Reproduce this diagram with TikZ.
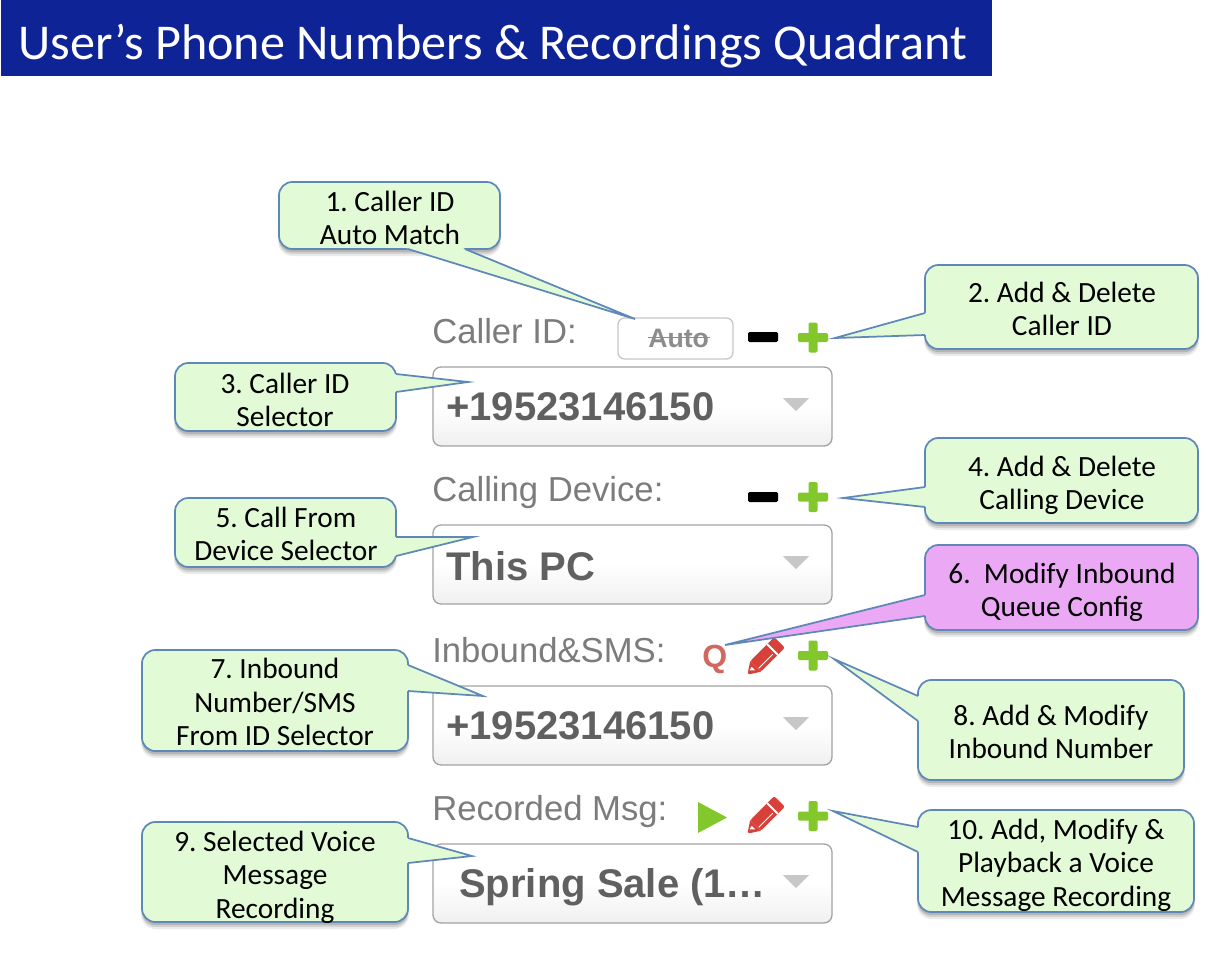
\documentclass[tikz,border=0pt]{standalone}
\usepackage{fontspec}
\setmainfont{Carlito}
\newfontfamily\uifont{Liberation Sans}
\usetikzlibrary{calc}
\definecolor{titleblue}{HTML}{0E2396}
\definecolor{calloutline}{HTML}{5E88B8}
\definecolor{calloutfill}{HTML}{E2FBD6}
\definecolor{pinkfill}{HTML}{EBA9F5}
\definecolor{uigray}{HTML}{606060}
\definecolor{uilabel}{HTML}{7C7C7C}
\definecolor{okgreen}{HTML}{82C82D}
\definecolor{penred}{HTML}{D8403A}
\definecolor{qred}{HTML}{D2675F}
\tikzset{
  x=0.75pt,y=-0.75pt,
  calloutbox/.style={draw=calloutline,line width=1.3pt,rounded corners=10pt},
  callouttext/.style={font=\fontsize{22}{25}\selectfont,align=center,text=black,inner sep=0pt},
  uilabeltext/.style={font=\uifont\fontsize{26}{26}\selectfont,text=uilabel,anchor=base west,inner sep=0pt},
  uivalue/.style={font=\uifont\bfseries\fontsize{30}{30}\selectfont,text=uigray,anchor=base west,inner sep=0pt},
  selectbox/.style={draw=black!36,line width=1pt,rounded corners=6pt,top color=white,bottom color=black!6,middle color=white},
}
\newcommand{\softshadow}[4]{%
  \fill[black,opacity=.08,rounded corners=11pt] (#1-1,#2+1) rectangle (#3+1,#4+7);
  \fill[black,opacity=.10,rounded corners=10pt] (#1,#2+1) rectangle (#3,#4+5);
  \fill[black,opacity=.14,rounded corners=10pt] (#1,#2+1) rectangle (#3,#4+3);
}
% #1 name, #2 x1, #3 y1, #4 x2, #5 y2, #6 tail base a, #7 tail base b, #8 tip, #9 fill
\newcommand{\calloutshape}[9]{
  \softshadow{#2}{#3}{#4}{#5}
  \path[fill=#9,calloutbox] (#2,#3) rectangle (#4,#5);
  \coordinate (#1a) at #6; \coordinate (#1b) at #7; \coordinate (#1tip) at #8;
  \coordinate (#1c) at ($(#2,#3)!.5!(#4,#5)$);
  \fill[#9] (#1a) -- (#1tip) -- (#1b) -- (#1c) -- cycle;
  \draw[calloutline,line width=1.3pt,line join=miter] (#1a) -- (#1tip) -- (#1b);
}
\newcommand{\selectmenu}[3]{% name, top y, bottom y
  \path[selectbox] (433,#2) rectangle (832,#3);
  \coordinate (#1arrow) at (796,#2+37);
  \fill[black!22] (#1arrow)+(-13,-6) -- +(13,-6) -- +(0,7) -- cycle;
}
\newcommand{\plusicon}[2]{%
  \fill[okgreen,rounded corners=1pt] (#1-15,#2-4.5) rectangle (#1+15,#2+4.5);
  \fill[okgreen,rounded corners=1pt] (#1-4.5,#2-15) rectangle (#1+4.5,#2+15);
}
\newcommand{\minusicon}[2]{%
  \fill[black,rounded corners=1pt] (#1-15,#2-5) rectangle (#1+15,#2+5);
}
\newcommand{\pencilicon}[2]{%
  \begin{scope}[shift={(#1,#2)},x={(0.53pt,0.53pt)},y={(0.53pt,-0.53pt)}]
    \fill[penred,rounded corners=1.5pt] (-12,-7.5) -- (22,-7.5) -- (22,7.5) -- (-12,7.5) -- cycle;
    \fill[penred] (-12,-7.5) -- (-12,7.5) -- (-22,1) -- (-22,-1) -- cycle;
    \fill[white] (11,-7.5) -- (13,-7.5) -- (13,7.5) -- (11,7.5) -- cycle;
    \fill[white] (-11,3) -- (9,3) -- (9,4) -- (-11,4) -- cycle;
    \fill[white] (-19,-1.5) -- (-15,-2.5) -- (-15,2.5) -- cycle;
  \end{scope}
}
\begin{document}
\frenchspacing
\begin{tikzpicture}
\useasboundingbox (0,0) rectangle (1208,972);
\fill[white] (0,0) rectangle (1208,972);
% title
\fill[titleblue] (1,0) rectangle (992,76);
\node[font=\fontsize{37.6}{40}\selectfont,text=white,anchor=base west,inner sep=0pt] (title) at (18,59) {User’s Phone Numbers \& Recordings Quadrant};

% UI labels
\node[uilabeltext] (lbla) at (432,343) {Caller ID:};
\node[uilabeltext] (lblb) at (432,501.5) {Calling Device:};
\node[uilabeltext] (lblc) at (432,662) {Inbound\&SMS:};
\node[uilabeltext] (lbld) at (432,820) {Recorded Msg:};

% Auto button
\path[draw=black!22,line width=1pt,rounded corners=5pt,fill=white] (618,318) rectangle (733,359);
\node[font=\uifont\bfseries\fontsize{20}{20}\selectfont,text=black!45,anchor=base west,inner sep=0pt] (auto) at (648,347) {\rlap{\rule[.32em]{46pt}{.8pt}}Auto};

% Select boxes
\selectmenu{sa}{367}{446}
\selectmenu{sb}{525}{604}
\selectmenu{sc}{686}{765}
\selectmenu{sd}{844}{923}
\node[uivalue] (vala) at (446,420) {+19523146150};
\node[uivalue] (valb) at (446,580) {This PC};
\node[uivalue] (valc) at (446,739) {+19523146150};
\node[uivalue] (vald) at (459,897) {Spring Sale (1\ldots};

% Icons
\minusicon{763}{337}
\plusicon{813}{337.5}
\minusicon{763}{497}
\plusicon{813}{497}
\node[font=\uifont\bfseries\fontsize{24}{24}\selectfont,text=qred,anchor=base west,inner sep=0pt] (qicon) at (702,667) {Q};
\pencilicon{764}{658}
\plusicon{813}{655.5}
\fill[okgreen] (698,802) -- (727,817.5) -- (698,833) -- cycle;
\pencilicon{764}{817}
\plusicon{813}{816}

% Callouts
\calloutshape{ca}{279}{182}{500}{249}{(408,249)}{(465,249)}{(635,319)}{calloutfill}
\node[callouttext] (ta) at (390,218) {1. Caller ID\\Auto Match};
\calloutshape{cb}{925}{265}{1198}{349}{(925,313)}{(925,335)}{(835,338)}{calloutfill}
\node[callouttext] (tb) at (1062,309) {2. Add \& Delete\\Caller ID};
\calloutshape{cc}{175}{363}{396}{431}{(396,374)}{(396,392)}{(468,382)}{calloutfill}
\node[callouttext] (tc) at (285,400) {3. Caller ID\\Selector};
\calloutshape{cd}{925}{438}{1198}{523}{(925,487)}{(925,507)}{(843,498)}{calloutfill}
\node[callouttext] (td) at (1062,485) {4. Add \& Delete\\Calling Device};
\calloutshape{ce}{175}{498}{396}{567}{(396,537)}{(396,556)}{(473,537)}{calloutfill}
\node[callouttext] (te) at (286,534) {5. Call From\\Device Selector};
\calloutshape{cf}{925}{545}{1198}{630}{(925,595)}{(925,616)}{(725,645)}{pinkfill}
\node[callouttext] (tf) at (1062,592) {6.~~Modify Inbound\\Queue Config};
\calloutshape{cg}{142}{650}{408}{751}{(408,665)}{(408,691)}{(483,696)}{calloutfill}
\node[callouttext] (tg) at (275,702) {7. Inbound\\Number/SMS\\From ID Selector};
\calloutshape{ch}{918}{680}{1184}{780}{(918,696)}{(918,721)}{(834,659)}{calloutfill}
\node[callouttext] (th) at (1051,732) {8. Add \& Modify\\Inbound Number};
\calloutshape{ci}{142}{822}{408}{922}{(408,838)}{(408,863)}{(472,856)}{calloutfill}
\node[callouttext] (ti) at (275,877) {9. Selected Voice\\Message\\Recording};
\calloutshape{cj}{918}{810}{1194}{912}{(918,827)}{(918,852)}{(833,811)}{calloutfill}
\node[callouttext] (tj) at (1056,865) {10. Add, Modify \&\\Playback a Voice\\Message Recording};
\end{tikzpicture}
\end{document}
